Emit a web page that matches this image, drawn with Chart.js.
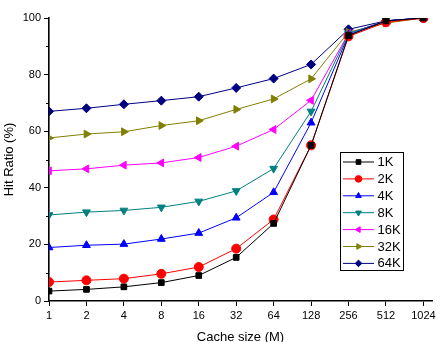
<!DOCTYPE html>
<html>
<head>
<meta charset="UTF-8">
<title>Hit Ratio vs Cache size</title>
<script src="https://cdn.jsdelivr.net/npm/chart.js"></script>
<style>
html,body{margin:0;padding:0;background:#fff;}
#wrap{width:440px;height:342px;}
</style>
</head>
<body>
<div id="wrap"><canvas id="c" width="440" height="342"></canvas></div>
<script>
// cache sizes (M) on the x axis
const cacheSizes = ['1','2','4','8','16','32','64','128','256','512','1024'];

// hit ratio (%) per block size
const hit1K  = [3.5, 4.1, 5.0, 6.5, 9.0, 15.4, 27.4, 55.0, 93.8, 99.0, 100];
const hit2K  = [6.7, 7.3, 7.9, 9.6, 12.0, 18.5, 28.8, 55.0, 93.5, 98.5, 100];
const hit4K  = [18.9, 19.7, 20.1, 21.9, 24.0, 29.4, 38.4, 63.0, 94.0, 99.0, 100];
const hit8K  = [30.4, 31.4, 32.0, 33.1, 35.2, 38.9, 46.8, 67.0, 94.5, 99.0, 100];
const hit16K = [46.0, 46.7, 48.0, 48.8, 50.7, 54.7, 60.6, 70.9, 94.5, 99.0, 100];
const hit32K = [57.6, 59.0, 59.8, 62.0, 63.7, 67.7, 71.4, 78.5, 95.0, 98.2, 100];
const hit64K = [67.0, 68.1, 69.5, 70.8, 72.2, 75.3, 78.6, 83.6, 96.0, 99.0, 100];

const yTicks = [0, 20, 40, 60, 80, 100];

function ds(label, values, color, style, rot){
    return {
        label: label,
        data: values.map((v,i)=>({x:i, y:v})),
        borderColor: color,
        backgroundColor: color,
        borderWidth: 1,
        pointStyle: style,
        rotation: rot || 0,
        pointRadius: 4.5,
        pointHoverRadius: 4.5,
        pointBorderWidth: 1,
        tension: 0
    };
}

const datasets = [
    ds('1K', hit1K, '#000000', 'rect'),
    ds('2K', hit2K, '#ff0000', 'circle'),
    ds('4K', hit4K, '#0000ff', 'triangle'),
    ds('8K', hit8K, '#008080', 'triangle', 180),
    ds('16K', hit16K, '#ff00ff', 'triangle', 270),
    ds('32K', hit32K, '#808000', 'triangle', 90),
    ds('64K', hit64K, '#000080', 'rectRot')
];
datasets[0].pointRadius = 4;

const FONT = "'Liberation Sans', Arial, sans-serif";

// minor ticks on y axis (every 10)
const minorTicks = {
    id:'minorTicks',
    afterDraw(chart){
        const ctx = chart.ctx, y = chart.scales.y;
        ctx.save();
        ctx.strokeStyle = '#000';
        ctx.lineWidth = 1;
        ctx.beginPath();
        for(let v=10; v<100; v+=20){
            const py = Math.round(y.getPixelForValue(v)) + 0.5;
            ctx.moveTo(y.right - 3, py);
            ctx.lineTo(y.right, py);
        }
        ctx.stroke();
        ctx.restore();
    }
};

// legend box inside the plot
const boxLegend = {
    id:'boxLegend',
    afterDraw(chart){
        const ctx = chart.ctx;
        const bx = 340, by = 152, bw = 63, bh = 118, step = 16.9;
        ctx.save();
        ctx.fillStyle = '#fff';
        ctx.fillRect(bx, by, bw, bh);
        ctx.strokeStyle = '#000';
        ctx.lineWidth = 1;
        ctx.strokeRect(bx + 0.5, by + 0.5, bw, bh);
        ctx.font = '13px ' + FONT;
        ctx.textBaseline = 'middle';
        chart.data.datasets.forEach((d,i)=>{
            const cy = by + 10 + i*step;
            ctx.strokeStyle = d.borderColor;
            ctx.lineWidth = 1;
            ctx.beginPath();
            ctx.moveTo(bx + 3, cy);
            ctx.lineTo(bx + 34, cy);
            ctx.stroke();
            ctx.fillStyle = d.backgroundColor;
            Chart.helpers.drawPoint(ctx, {pointStyle:d.pointStyle, rotation:d.rotation, radius:3.3, borderWidth:1}, bx + 18.5, cy);
            ctx.fillStyle = '#000';
            ctx.fillText(d.label, bx + 37.5, cy + 0.5);
        });
        ctx.restore();
    }
};

new Chart(document.getElementById('c').getContext('2d'), {
    type:'line',
    data:{ datasets: datasets },
    options:{
        responsive:false,
        animation:false,
        layout:{ padding:{ left:0, right:8, top:18, bottom:0 } },
        plugins:{ legend:{display:false}, tooltip:{enabled:false} },
        scales:{
            x:{
                type:'linear',
                min:0, max:10.23,
                afterFit(s){ s.height = 41; },
                border:{ display:true, color:'#000', width:1.6 },
                grid:{ display:true, drawOnChartArea:false, drawTicks:true, tickLength:5, color:'#000' },
                ticks:{
                    stepSize:1, includeBounds:false, autoSkip:false, maxRotation:0,
                    color:'#000', padding:3, font:{ family:FONT, size:11 },
                    callback:(v)=> Number.isInteger(v) ? cacheSizes[v] : ''
                },
                title:{ display:true, text:'Cache size (M)', color:'#000', font:{ family:FONT, size:13 }, padding:{top:2,bottom:-3} }
            },
            y:{
                min:0, max:100,
                afterFit(s){ s.width = 49; },
                afterBuildTicks(s){ s.ticks = yTicks.map(v=>({value:v})); },
                border:{ display:true, color:'#000', width:1.6 },
                grid:{ display:true, drawOnChartArea:false, drawTicks:true, tickLength:5, color:'#000' },
                ticks:{ color:'#000', padding:3, font:{ family:FONT, size:11 } },
                title:{ display:true, text:'Hit Ratio (%)', color:'#000', font:{ family:FONT, size:13 }, padding:{top:2,bottom:0} }
            }
        }
    },
    plugins:[minorTicks, boxLegend]
});
</script>
</body>
</html>
